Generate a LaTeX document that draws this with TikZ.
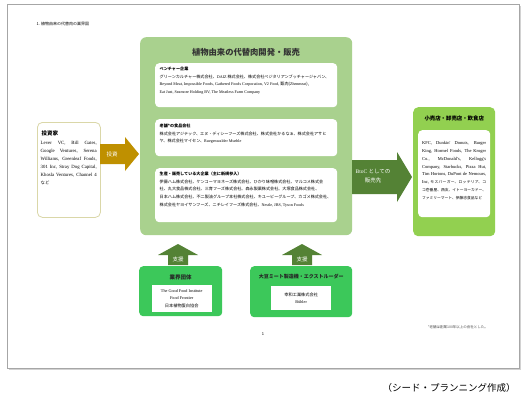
\documentclass[tikz,border=0pt]{standalone}
\usepackage{fontspec}
\setmainfont{Noto Sans CJK JP}
\newfontfamily\jp{Noto Sans CJK JP}
\newfontfamily\latn{Liberation Serif}
\usetikzlibrary{positioning}
\XeTeXlinebreaklocale "ja"
\XeTeXlinebreakskip=0pt plus 1pt

\definecolor{devgreen}{HTML}{A9D18E}
\definecolor{shopgreen}{HTML}{92D050}
\definecolor{grpgreen}{HTML}{3CC85A}
\definecolor{darkarr}{HTML}{548235}
\definecolor{goldarr}{HTML}{BF9000}
\definecolor{invline}{HTML}{DAD7A8}

\tikzset{
  pagebox/.style={rectangle, draw=gray!70, fill=white, line width=0.7pt, anchor=north west, inner sep=0pt},
  devbox/.style={rectangle, rounded corners=6pt, fill=devgreen, anchor=north west, inner sep=0pt},
  listbox/.style={rectangle, rounded corners=4pt, fill=white, anchor=north west, inner sep=0pt},
  listtext/.style={anchor=north west, align=left, inner sep=0pt, font=\fontsize{4.1}{7.6}\selectfont},
  invbox/.style={rectangle, rounded corners=5pt, draw=invline, line width=0.8pt, fill=white, anchor=north west, inner sep=0pt},
  shopbox/.style={rectangle, rounded corners=5pt, fill=shopgreen, anchor=north west, inner sep=0pt},
  grpbox/.style={rectangle, rounded corners=4pt, fill=grpgreen, anchor=north west, inner sep=0pt},
  grptitle/.style={font=\bfseries\fontsize{5.5}{6}\selectfont, text=black!85, inner sep=0pt},
  grptext/.style={align=center, inner sep=0pt, font=\fontsize{4.2}{7.5}\selectfont},
  arrlabel/.style={text=white, inner sep=0pt, font=\fontsize{5.5}{9}\selectfont},
}

\begin{document}
\begin{tikzpicture}[x=1pt, y=-1pt]
\useasboundingbox (0,0) rectangle (530,400);
\fill[gray!35] (9,6) rectangle (521,370);
\node (page) [pagebox, minimum width=512pt, minimum height=364pt] at (7,4) {};
\node (head) [anchor=west, font=\fontsize{4}{5}\selectfont] at (33,24) {1. 植物由来の代替肉の業界図};

% main
\node (dev) [devbox, minimum width=212pt, minimum height=198pt] at (140,37) {};
\node (devtitle) [font=\bfseries\fontsize{8.3}{10}\selectfont, text=black!80] at (246,52) {植物由来の代替肉開発・販売};

\node (vent) [listbox, minimum width=182pt, minimum height=44pt] at (155,63) {};
\node (venttxt) [listtext] at ([shift={(4.5pt,-4pt)}]vent.north west)
  {\textbf{ベンチャー企業}\\
   グリーンカルチャー株式会社、{\latn DAIZ} 株式会社、株式会社ベジタリアンブッチャージャパン、\\
   {\latn Beyond Meat, Impossible Foods, Gathered Foods Corporation, V2 Food,} 甄肉({\latn Zhenmeat}),\\
   {\latn Eat Just, Seamore Holding BV, The Meatless Farm Company}};

\node (old) [listbox, minimum width=182pt, minimum height=37pt] at (155,119) {};
\node (oldtxt) [listtext] at ([shift={(4.5pt,-5pt)}]old.north west)
  {\textbf{老舗*の食品会社}\\
   株式会社アジテック、エヌ・ディシーフーズ株式会社、株式会社かるなぁ、株式会社アサヒ\\
   ヤ、株式会社マイセン、{\latn Ruegenwalder Muehle}};

\node (big) [listbox, minimum width=182pt, minimum height=54pt] at (155,168) {};
\node (bigtxt) [listtext] at ([shift={(4.5pt,-4pt)}]big.north west)
  {\textbf{生産・販売している大企業（主に新規参入）}\\
   伊藤ハム株式会社、ケンコーマヨネーズ株式会社、ひかり味噌株式会社、マルコメ株式会\\
   社、丸大食品株式会社、三育フーズ株式会社、森永製菓株式会社、大塚食品株式会社、\\
   日本ハム株式会社、不二製油グループ本社株式会社、キユーピーグループ、カゴメ株式会社、\\
   株式会社ヤヨイサンフーズ、ニチレイフーズ株式会社、{\latn Nestle, JBS, Tyson Foods}};

% investors
\node (inv) [invbox, minimum width=63pt, minimum height=95pt] at (37,122) {};
\node (invtitle) [anchor=west, inner sep=0pt, font=\bfseries\fontsize{5.5}{6}\selectfont] at ([shift={(4.5pt,-11pt)}]inv.north west) {投資家};
\node (invtxt) [anchor=north west, text width=56pt, align=justify, inner sep=0pt, font=\latn\fontsize{4.8}{8}\selectfont] at ([shift={(3.5pt,-19pt)}]inv.north west)
  {Lever VC, Bill Gates,\linebreak Google Ventures, Serena\linebreak Williams, Greenleaf Foods,\linebreak 301 Inc, Stray Dog Capital,\linebreak Khosla Ventures, Channel 4\linebreak {\jp\fontsize{4.3}{8}\selectfont など}};
\fill[goldarr] (100,144) -- (125,144) -- (125,137) -- (139,154) -- (125,171) -- (125,164) -- (100,164) -- cycle;
\node (investlbl) [arrlabel] at (112,154) {投資};

% shops
\fill[darkarr] (352,160) -- (397,160) -- (397,152) -- (412,177) -- (397,202) -- (397,194) -- (352,194) -- cycle;
\node (salelbl) [arrlabel, align=center] at (373,176.5) {{\latn BtoC} としての\\販売先};
\node (shop) [shopbox, minimum width=82pt, minimum height=129pt] at (413,107) {};
\node (shoptitle) [font=\bfseries\fontsize{5.4}{6}\selectfont, inner sep=0pt] at ([yshift=-11pt]shop.north) {小売店・卸売店・飲食店};
\node (shoplist) [listbox, minimum width=72pt, minimum height=87pt] at (418,130) {};
\node (shoptxt) [anchor=north west, text width=64pt, align=justify, inner sep=0pt, font=\latn\fontsize{4.5}{7.9}\selectfont] at ([shift={(4pt,-11pt)}]shoplist.north west)
  {KFC, Dunkin' Donuts, Burger\linebreak King, Hormel Foods, The Kroger\linebreak Co., McDonald's, Kellogg's\linebreak Company, Starbucks, Pizza Hut,\linebreak Tim Hortons, DuPont de Nemours,\linebreak Inc, {\jp\fontsize{3.75}{7.9}\selectfont モスバーガー、ロッテリア、コ}\linebreak {\jp\fontsize{3.75}{7.9}\selectfont コ壱番屋、西友、イトーヨーカドー、}\linebreak {\jp\fontsize{3.75}{7.9}\selectfont ファミリーマート、伊藤忠食品など}};

% support
\fill[darkarr] (168,265) -- (168,255) -- (158,255) -- (178,244) -- (198,255) -- (188,255) -- (188,265) -- cycle;
\node (help1) [arrlabel] at (178,259.5) {支援};
\node (assoc) [grpbox, minimum width=83pt, minimum height=50pt] at (139,266) {};
\node (assoctitle) [grptitle] at ([yshift=-11pt]assoc.north) {業界団体};
\node (assoclist) [listbox, rounded corners=0pt, minimum width=60pt, minimum height=27pt] at (151.5,285) {};
\node (assoctxt) [grptext] at (assoclist.center) {{\latn The Good Food Institute}\\{\latn Food Frontier}\\日本植物蛋白協会};

\fill[darkarr] (292,265) -- (292,255) -- (282,255) -- (302,244) -- (322,255) -- (312,255) -- (312,265) -- cycle;
\node (help2) [arrlabel] at (302,259.5) {支援};
\node (extr) [grpbox, minimum width=102pt, minimum height=51pt] at (250,266) {};
\node (extrtitle) [grptitle, font=\bfseries\fontsize{5}{6}\selectfont] at ([yshift=-11pt]extr.north) {大豆ミート製造機・エクストルーダー};
\node (extrlist) [listbox, rounded corners=0pt, minimum width=60pt, minimum height=24pt] at (271,286) {};
\node (extrtxt) [grptext] at (extrlist.center) {幸和工業株式会社\\{\latn Bühler}};

\node (pgno) [font=\fontsize{4}{5}\selectfont] at (263,334) {1};
\node (note) [font=\fontsize{3.5}{4}\selectfont, text=black!70] at (458,327) {*老舗は創業100年以上の会社とした。};
\node (credit) [font=\fontsize{9.5}{11}\selectfont] at (449,388) {（シード・プランニング作成）};
\end{tikzpicture}
\end{document}
